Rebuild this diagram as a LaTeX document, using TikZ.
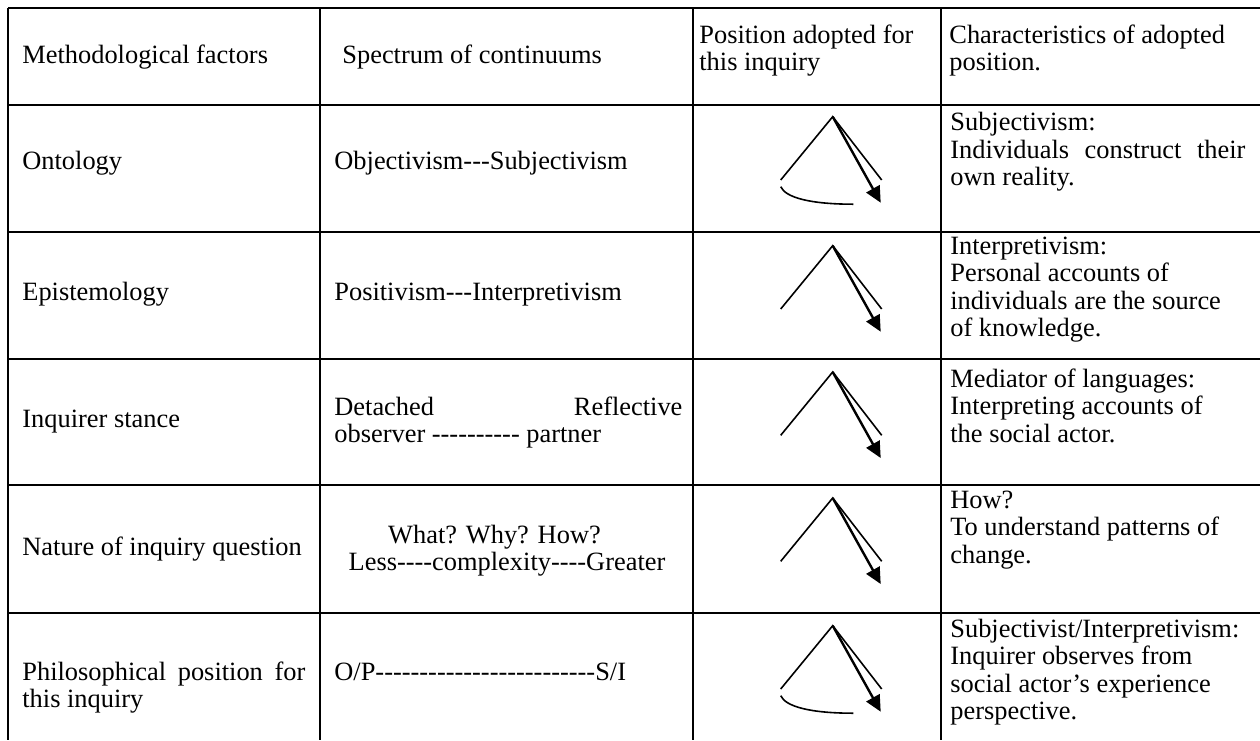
\documentclass[tikz,border=0pt]{standalone}
\usepackage{fontspec}
\newfontfamily\tnr{Liberation Serif}
\usetikzlibrary{arrows.meta}
\begin{document}
\begin{tikzpicture}[x=0.5pt,y=-0.5pt,
  rule/.style={line width=1.2pt},
  txt/.style={anchor=base west, inner sep=0pt, font=\tnr\fontsize{13.2}{13.75}\selectfont},
  ctxt/.style={txt, anchor=base},
  glyph/.style={line width=0.8pt},
  shaft/.style={line width=1.2pt, -{Triangle[length=8pt,width=7.5pt]}},
  pics/stance/.style={code={
    \draw[glyph] (-52,63.3) -- (0,0) -- (49,63.3);
    \draw[shaft] (0,0) -- (48,86);
  }},
  pics/stancearc/.style={code={
    \draw[glyph] (-52,63.3) -- (0,0) -- (49,63.3);
    \draw[shaft] (0,0) -- (48,86);
    \draw[glyph] (-52,70) .. controls (-47,81) and (-22,87.5) .. (20.6,87.5);
  }},
]
\useasboundingbox (0,0) rectangle (1260,740);

% table rules
\foreach \yy in {8,105,232,359,485,613}
  \draw[rule] (8,\yy) -- (1260,\yy);
\foreach \xx in {8,320,693,941}
  \draw[rule] (\xx,8) -- (\xx,740);

% header row
\node[txt] (h1) at (22,63) {Methodological factors};
\node[txt] (h2) at (342,63) {Spectrum of continuums};
\node[txt] (h3) at (699,43) {\parbox[t]{120pt}{Position adopted for\\this inquiry}};
\node[txt] (h4) at (949,43) {\parbox[t]{150pt}{Characteristics of adopted\\position.}};

% ontology
\node[txt] (a1) at (22,169) {Ontology};
\node[txt] (a2) at (334,169) {Objectivism---Subjectivism};
\pic at (832.7,116.7) {stancearc};
\node[txt] (a4) at (950,130.5) {\parbox[t]{147.5pt}{Subjectivism:\\
  \makebox[\linewidth][s]{Individuals construct their}\\own reality.}};

% epistemology
\node[txt] (b1) at (22,300) {Epistemology};
\node[txt] (b2) at (334,300) {Positivism---Interpretivism};
\pic at (832.7,245.7) {stance};
\node[txt] (b4) at (950,254) {\parbox[t]{147.5pt}{Interpretivism:\\Personal accounts of\\
  individuals are the source\\of knowledge.}};

% inquirer stance
\node[txt] (c1) at (22,427) {Inquirer stance};
\node[txt] (c2) at (334,415) {\parbox[t]{174pt}{Detached\hfill Reflective\\observer ---------- partner}};
\pic at (832.7,372) {stance};
\node[txt] (c4) at (950,387) {\parbox[t]{147.5pt}{Mediator of languages:\\Interpreting accounts of\\
  the social actor.}};

% nature of inquiry question
\node[txt] (d1) at (22,555) {Nature of inquiry question};
\node[ctxt] (d2) at (494.5,543) {What? Why? How?};
\node[ctxt] (d3) at (507,570) {Less----complexity----Greater};
\pic at (832.7,498) {stance};
\node[txt] (d4) at (950,508) {\parbox[t]{147.5pt}{How?\\To understand patterns of\\change.}};

% philosophical position
\node[txt] (e1) at (22,680) {\parbox[t]{141.5pt}{\makebox[\linewidth][s]{Philosophical position for}\\this inquiry}};
\node[txt] (e2) at (334,680) {O/P-------------------------S/I};
\pic at (832.7,625.7) {stancearc};
\node[txt] (e4) at (950,637) {\parbox[t]{147.5pt}{Subjectivist/Interpretivism:\\Inquirer observes from\\
  social actor’s experience\\perspective.}};
\end{tikzpicture}
\end{document}
